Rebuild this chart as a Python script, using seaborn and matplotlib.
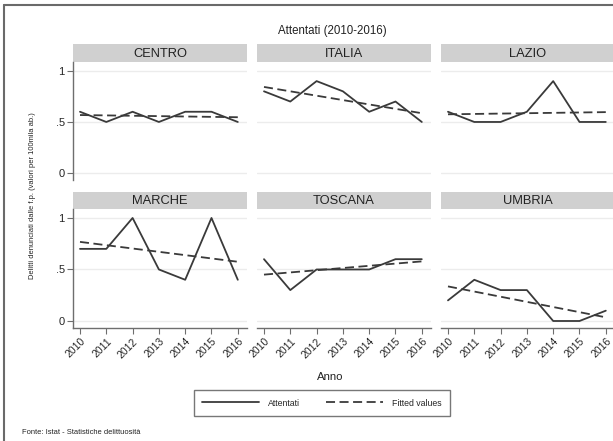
#!/usr/bin/env python3
"""
Attentati (2010-2016): small multiples by region with linear fit, Stata-like style.
"""
import pandas as pd
import matplotlib
matplotlib.use('Agg')
import matplotlib.pyplot as plt
from matplotlib.lines import Line2D
import seaborn as sns

# Data
YEARS = [2010, 2011, 2012, 2013, 2014, 2015, 2016]
REGIONS = ['CENTRO', 'ITALIA', 'LAZIO', 'MARCHE', 'TOSCANA', 'UMBRIA']
CENTRO = [0.6, 0.5, 0.6, 0.5, 0.6, 0.6, 0.5]
ITALIA = [0.8, 0.7, 0.9, 0.8, 0.6, 0.7, 0.5]
LAZIO = [0.6, 0.5, 0.5, 0.6, 0.9, 0.5, 0.5]
MARCHE = [0.7, 0.7, 1.0, 0.5, 0.4, 1.0, 0.4]
TOSCANA = [0.6, 0.3, 0.5, 0.5, 0.5, 0.6, 0.6]
UMBRIA = [0.2, 0.4, 0.3, 0.3, 0.0, 0.0, 0.1]
Y_TICKS = [0, 0.5, 1]
Y_TICK_LABELS = ['0', '.5', '1']

SERIES = dict(zip(REGIONS, [CENTRO, ITALIA, LAZIO, MARCHE, TOSCANA, UMBRIA]))

# Style
W, H = 613, 441
LINE_COLOR = '#3a3a3a'
STRIP_COLOR = '#d0d0d0'
AXIS_COLOR = '#6e6e6e'
GRID_COLOR = '#ececec'
FONT = ['Liberation Sans', 'DejaVu Sans']


def px_box(x0, y0, x1, y1):
    """Convert pixel box (top-left origin) to figure fraction rect."""
    return [x0 / W, 1 - y1 / H, (x1 - x0) / W, (y1 - y0) / H]


def build_frame():
    rows = []
    for region, values in SERIES.items():
        for year, v in zip(YEARS, values):
            rows.append({'region': region, 'anno': year, 'valore': v})
    return pd.DataFrame(rows)


def main():
    sns.set_theme(style='white')
    plt.rcParams['font.family'] = FONT

    df = build_frame()
    fig = plt.figure(figsize=(W / 100, H / 100), dpi=100)

    col_x = [(73, 247), (257, 431), (441, 615)]
    row_y = [((44, 62), (62, 180)), ((192, 209), (209, 328))]
    xlim = (2009.734, 2016.35)
    ylim = (-0.068, 1.087)

    for i, region in enumerate(REGIONS):
        r, c = divmod(i, 3)
        x0, x1 = col_x[c]
        (s0, s1), (p0, p1) = row_y[r]

        # strip
        sax = fig.add_axes(px_box(x0, s0, x1, s1))
        sax.set_facecolor(STRIP_COLOR)
        sax.set_xticks([])
        sax.set_yticks([])
        for sp in sax.spines.values():
            sp.set_visible(False)
        sax.text(0.5, 0.45, region, ha='center', va='center', fontsize=9.3,
                 color='#222222', transform=sax.transAxes)

        # panel
        ax = fig.add_axes(px_box(x0, p0, x1, p1))
        sub = df[df['region'] == region]
        sns.lineplot(data=sub, x='anno', y='valore', ax=ax, color=LINE_COLOR,
                     linewidth=1.3)
        sns.regplot(data=sub, x='anno', y='valore', ax=ax, scatter=False,
                    ci=None, truncate=True,
                    line_kws={'color': LINE_COLOR, 'linewidth': 1.3,
                              'linestyle': (0, (5, 2.5))})
        ax.set_xlim(*xlim)
        ax.set_ylim(*ylim)
        for yv in Y_TICKS:
            ax.axhline(yv, color=GRID_COLOR, linewidth=1.0, zorder=0)
        ax.set_xlabel('')
        ax.set_ylabel('')
        for sp in ax.spines.values():
            sp.set_visible(False)

        if c == 0:
            ax.spines['left'].set_visible(True)
            ax.spines['left'].set_color(AXIS_COLOR)
            ax.spines['left'].set_linewidth(1.0)
            ax.set_yticks(Y_TICKS)
            ax.set_yticklabels(Y_TICK_LABELS)
            ax.tick_params(axis='y', length=4, width=0.8, color=AXIS_COLOR,
                           labelsize=8, pad=2, left=True)
        else:
            ax.set_yticks([])

        if r == 1:
            ax.spines['bottom'].set_visible(True)
            ax.spines['bottom'].set_color(AXIS_COLOR)
            ax.spines['bottom'].set_linewidth(1.0)
            ax.set_xticks(YEARS)
            ax.set_xticklabels([str(y) for y in YEARS], rotation=45,
                               ha='right', rotation_mode='anchor')
            ax.tick_params(axis='x', length=4, width=0.8, color=AXIS_COLOR,
                           labelsize=7.5, pad=2, bottom=True)
        else:
            ax.set_xticks([])

    # titles and labels
    fig.text(332 / W, 1 - 31 / H, 'Attentati (2010-2016)', ha='center',
             va='center', fontsize=8.3, color='#222222')
    fig.text(330 / W, 1 - 377 / H, 'Anno', ha='center', va='center',
             fontsize=8.2, color='#222222')
    fig.text(33 / W, 1 - 196 / H,
             'Delitti denunciati dalle f.p. (valori per 100mila ab.)',
             ha='center', va='center', rotation=90, fontsize=5.4,
             color='#222222')
    fig.text(22 / W, 1 - 432 / H, 'Fonte: Istat - Statistiche delittuosità',
             ha='left', va='center', fontsize=5.4, color='#222222')

    # legend
    handles = [Line2D([], [], color=LINE_COLOR, linewidth=1.3),
               Line2D([], [], color=LINE_COLOR, linewidth=1.3,
                      linestyle=(0, (5, 2.5)))]
    leg = fig.legend(handles, ['Attentati', 'Fitted values'], ncol=2,
                     loc='center', bbox_to_anchor=(322 / W, 1 - 403 / H),
                     fontsize=6.3, handlelength=6.5, handletextpad=1.0,
                     columnspacing=3.0, frameon=True, fancybox=False,
                     borderpad=1.0, borderaxespad=0)
    leg.get_frame().set_edgecolor('#555555')
    leg.get_frame().set_linewidth(1.0)

    # outer document frame
    fig.add_artist(Line2D([4 / W, 4 / W], [0, 1 - 5 / H], color='#6a6a6a',
                          linewidth=1.5, transform=fig.transFigure))
    fig.add_artist(Line2D([4 / W, 1], [1 - 5 / H, 1 - 5 / H], color='#6a6a6a',
                          linewidth=1.5, transform=fig.transFigure))

    fig.savefig('out.png', dpi=100, facecolor='white')
    plt.close(fig)


if __name__ == '__main__':
    main()
